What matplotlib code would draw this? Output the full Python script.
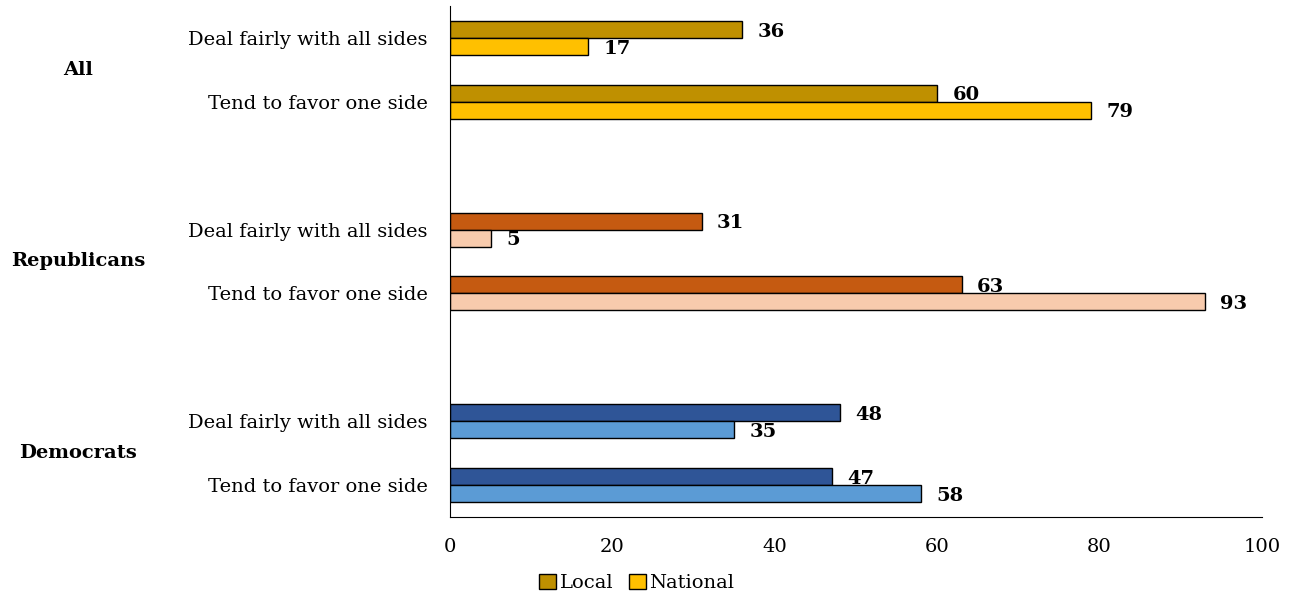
import matplotlib.pyplot as plt
from matplotlib.patches import Patch
from matplotlib.transforms import blended_transform_factory

plt.rcParams["font.family"] = ["DejaVu Serif"]

groups = ["All", "Republicans", "Democrats"]
answers = ["Deal fairly with all sides", "Tend to favor one side"]
local = [36, 60, 31, 63, 48, 47]
national = [17, 79, 5, 93, 35, 58]
local_colors = ["#BF9000", "#C55A11", "#2F5597"]
national_colors = ["#FFC000", "#F8CBAD", "#5B9BD5"]

FS = 14

fig = plt.figure(figsize=(12.96, 6.01), dpi=100)
ax = fig.add_axes([450 / 1296, 1 - 517 / 601, (1262 - 450) / 1296, (517 - 6) / 601])

h = 0.266
pos, labels = [], []
for gi, g in enumerate(groups):
    for ai, a in enumerate(answers):
        i = gi * 2 + ai
        y = gi * 3 + ai
        pos.append(y)
        labels.append(a)
        ax.barh(y - h / 2, local[i], height=h, color=local_colors[gi],
                edgecolor="black", linewidth=1)
        ax.barh(y + h / 2, national[i], height=h, color=national_colors[gi],
                edgecolor="black", linewidth=1)
        ax.annotate(str(local[i]), (local[i], y - h / 2), xytext=(11, -1.5),
                    textcoords="offset points", va="center", ha="left",
                    fontsize=FS, fontweight="bold")
        ax.annotate(str(national[i]), (national[i], y + h / 2), xytext=(11, -1.5),
                    textcoords="offset points", va="center", ha="left",
                    fontsize=FS, fontweight="bold")

trans = blended_transform_factory(fig.transFigure, ax.transData)
for gi, g in enumerate(groups):
    ax.text(78 / 1296, gi * 3 + 0.5, g, transform=trans, ha="center",
            va="center", fontsize=FS, fontweight="bold")

ax.set_yticks(pos)
ax.set_yticklabels(labels, fontsize=FS)
ax.set_ylim(7.5, -0.5)
ax.set_xlim(0, 100)
ax.set_xticks(range(0, 101, 20))
ax.tick_params(axis="x", labelsize=FS, length=0, pad=15)
ax.tick_params(axis="y", length=0, pad=16)
ax.spines["top"].set_visible(False)
ax.spines["right"].set_visible(False)

handles = [Patch(facecolor=local_colors[0], edgecolor="black", label="Local"),
           Patch(facecolor=national_colors[0], edgecolor="black", label="National")]
fig.legend(handles=handles, loc="center", bbox_to_anchor=(637 / 1296, 1 - 583 / 601),
           ncol=2, frameon=False, fontsize=FS, handlelength=0.85, handleheight=0.85,
           handletextpad=0.2, columnspacing=0.8)

fig.savefig("out.png", dpi=100)
